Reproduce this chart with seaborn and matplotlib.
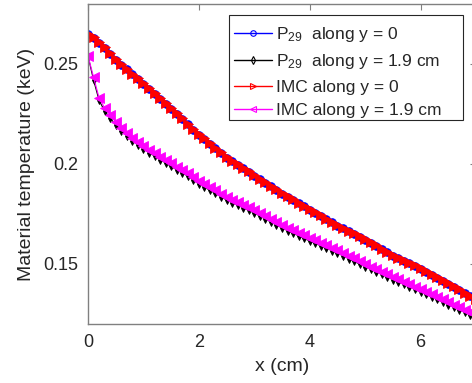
import numpy as np
import pandas as pd
import matplotlib
matplotlib.use("Agg")
import matplotlib.pyplot as plt
from matplotlib.lines import Line2D
from matplotlib.patches import Rectangle
import seaborn as sns

x_cm = [0.0, 0.1, 0.2, 0.3, 0.4, 0.5, 0.6, 0.7, 0.8, 0.9,
        1.0, 1.1, 1.2, 1.3, 1.4, 1.5, 1.6, 1.7, 1.8, 1.9,
        2.0, 2.1, 2.2, 2.3, 2.4, 2.5, 2.6, 2.7, 2.8, 2.9,
        3.0, 3.1, 3.2, 3.3, 3.4, 3.5, 3.6, 3.7, 3.8, 3.9,
        4.0, 4.1, 4.2, 4.3, 4.4, 4.5, 4.6, 4.7, 4.8, 4.9,
        5.0, 5.1, 5.2, 5.3, 5.4, 5.5, 5.6, 5.7, 5.8, 5.9,
        6.0, 6.1, 6.2, 6.3, 6.4, 6.5, 6.6, 6.7, 6.8, 6.9, 7.0]

p29_y0 = [0.2648, 0.2632, 0.2607, 0.2582, 0.2550, 0.2522, 0.2497, 0.2473, 0.2449, 0.2425,
          0.2402, 0.2377, 0.2352, 0.2327, 0.2302, 0.2277, 0.2252, 0.2225, 0.2198, 0.2171,
          0.2147, 0.2125, 0.2102, 0.2079, 0.2055, 0.2032, 0.2014, 0.1996, 0.1978, 0.1960,
          0.1942, 0.1924, 0.1906, 0.1888, 0.1870, 0.1852, 0.1836, 0.1820, 0.1804, 0.1788,
          0.1772, 0.1756, 0.1740, 0.1724, 0.1708, 0.1692, 0.1678, 0.1664, 0.1650, 0.1636,
          0.1622, 0.1606, 0.1590, 0.1574, 0.1558, 0.1542, 0.1529, 0.1516, 0.1503, 0.1490,
          0.1477, 0.1462, 0.1447, 0.1432, 0.1417, 0.1402, 0.1386, 0.1370, 0.1354, 0.1338, 0.1322]

p29_y19 = [0.2540, 0.2420, 0.2318, 0.2265, 0.2230, 0.2195, 0.2167, 0.2142, 0.2117, 0.2095,
           0.2075, 0.2057, 0.2040, 0.2022, 0.2005, 0.1988, 0.1971, 0.1955, 0.1940, 0.1920,
           0.1900, 0.1885, 0.1868, 0.1853, 0.1836, 0.1820, 0.1807, 0.1795, 0.1781, 0.1768,
           0.1755, 0.1740, 0.1725, 0.1710, 0.1695, 0.1680, 0.1667, 0.1654, 0.1641, 0.1628,
           0.1615, 0.1603, 0.1591, 0.1579, 0.1567, 0.1555, 0.1541, 0.1527, 0.1513, 0.1500,
           0.1487, 0.1474, 0.1461, 0.1448, 0.1435, 0.1422, 0.1410, 0.1398, 0.1386, 0.1374,
           0.1362, 0.1349, 0.1336, 0.1323, 0.1310, 0.1297, 0.1284, 0.1271, 0.1258, 0.1245, 0.1232]

imc_y0 = [0.2650, 0.2635, 0.2610, 0.2585, 0.2553, 0.2525, 0.2500, 0.2475, 0.2452, 0.2428,
          0.2405, 0.2380, 0.2355, 0.2330, 0.2305, 0.2280, 0.2255, 0.2228, 0.2200, 0.2173,
          0.2150, 0.2128, 0.2105, 0.2082, 0.2058, 0.2035, 0.2017, 0.1999, 0.1981, 0.1963,
          0.1945, 0.1927, 0.1909, 0.1891, 0.1873, 0.1855, 0.1839, 0.1823, 0.1807, 0.1791,
          0.1775, 0.1759, 0.1743, 0.1727, 0.1711, 0.1695, 0.1681, 0.1667, 0.1653, 0.1639,
          0.1625, 0.1609, 0.1593, 0.1577, 0.1561, 0.1545, 0.1532, 0.1519, 0.1506, 0.1493,
          0.1480, 0.1465, 0.1450, 0.1435, 0.1420, 0.1405, 0.1389, 0.1373, 0.1357, 0.1341, 0.1325]

imc_y19 = [0.2540, 0.2435, 0.2330, 0.2280, 0.2245, 0.2210, 0.2182, 0.2157, 0.2132, 0.2110,
           0.2090, 0.2072, 0.2055, 0.2037, 0.2020, 0.2003, 0.1986, 0.1970, 0.1955, 0.1935,
           0.1915, 0.1900, 0.1883, 0.1868, 0.1851, 0.1835, 0.1822, 0.1810, 0.1796, 0.1783,
           0.1770, 0.1755, 0.1740, 0.1725, 0.1710, 0.1695, 0.1682, 0.1669, 0.1656, 0.1643,
           0.1630, 0.1618, 0.1606, 0.1594, 0.1582, 0.1570, 0.1556, 0.1542, 0.1528, 0.1514,
           0.1500, 0.1487, 0.1474, 0.1461, 0.1448, 0.1435, 0.1423, 0.1411, 0.1399, 0.1387,
           0.1375, 0.1362, 0.1349, 0.1336, 0.1323, 0.1310, 0.1297, 0.1284, 0.1271, 0.1258, 0.1245]

series_labels = ["P$_{29}$  along y = 0", "P$_{29}$  along y = 1.9 cm",
                 "IMC along y = 0", "IMC along y = 1.9 cm"]
x_ticks = [0, 2, 4, 6]
y_ticks = [0.15, 0.2, 0.25]
y_tick_labels = ["0.15", "0.2", "0.25"]

sns.set_theme(style="white")
plt.rcParams["font.family"] = ["Liberation Sans", "DejaVu Sans"]
plt.rcParams["mathtext.fontset"] = "custom"
plt.rcParams["mathtext.rm"] = "Liberation Sans"
plt.rcParams["mathtext.it"] = "Liberation Sans"

fig = plt.figure(figsize=(4.72, 3.83), dpi=100)
ax = fig.add_axes([88 / 472, 59 / 383, 388 / 472, 320 / 383])

styles = [
    dict(color="#0000ff", marker="o", markersize=5.5),
    dict(color="#000000", marker="d", markersize=4),
    dict(color="#ff0000", marker=">", markersize=7),
    dict(color="#ff00ff", marker="<", markersize=7),
]
data = [p29_y0, p29_y19, imc_y0, imc_y19]
for vals, st in zip(data, styles):
    df = pd.DataFrame({"x": x_cm, "T": vals})
    sns.lineplot(data=df, x="x", y="T", ax=ax, sort=False, legend=False,
                 color=st["color"], marker=st["marker"], markersize=st["markersize"],
                 markerfacecolor=st["color"], markeredgecolor=st["color"],
                 markeredgewidth=0.6, linewidth=0.8)

ax.set_xlim(0, 7)
ax.set_ylim(0.12, 0.28)
ax.set_xticks(x_ticks)
ax.set_yticks(y_ticks)
ax.set_yticklabels(y_tick_labels)
ax.tick_params(direction="in", length=4, width=0.8, color="#808080",
               labelcolor="#262626", labelsize=13, top=True, right=True, pad=7)
for s in ax.spines.values():
    s.set_color("#808080")
    s.set_linewidth(1.0)
ax.set_xlabel("x (cm)", fontsize=14, color="#262626", labelpad=5)
ax.set_ylabel("Material temperature (keV)", fontsize=14, color="#262626", labelpad=6)

# legend frame (MATLAB-style wide box)
frame = Rectangle((229 / 472, 1 - 120 / 383), 234 / 472, 105 / 383,
                  transform=fig.transFigure, facecolor="white", edgecolor="#262626",
                  linewidth=0.8, zorder=4, clip_on=False)
ax.add_patch(frame)

handles = [Line2D([], [], color=st["color"], marker=st["marker"], markersize=4,
                  markerfacecolor="none", markeredgecolor=st["color"],
                  markeredgewidth=0.8, linewidth=1.0) for st in styles]
leg = ax.legend(handles, series_labels, loc="upper left",
                bbox_to_anchor=(234 / 472, 1 - 25 / 383),
                bbox_transform=fig.transFigure, fontsize=12.5, frameon=False,
                handlelength=2.2, handletextpad=0.2, borderpad=0, labelspacing=0.48,
                borderaxespad=0)
leg.set_zorder(6)

fig.savefig("out.png", dpi=100)
